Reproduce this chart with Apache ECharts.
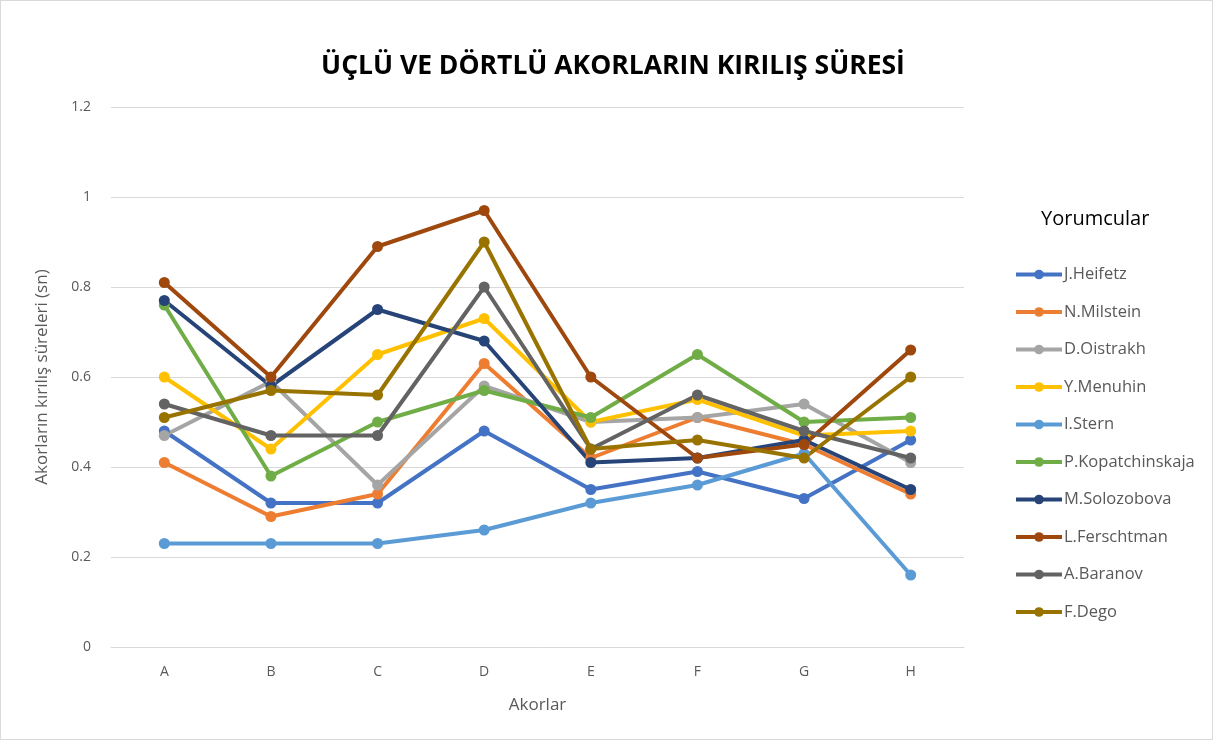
<!DOCTYPE html>
<html>
<head>
<meta charset="utf-8">
<script src="https://cdn.jsdelivr.net/npm/echarts@6/dist/echarts.min.js"></script>
<style>
  html, body { margin: 0; padding: 0; background: #fff; }
  #main { width: 1213px; height: 740px; box-sizing: border-box; border: 1px solid #d9d9d9; }
</style>
</head>
<body>
<div id="main"></div>
<script>
const categories = ['A', 'B', 'C', 'D', 'E', 'F', 'G', 'H'];
const names = ['J.Heifetz', 'N.Milstein', 'D.Oistrakh', 'Y.Menuhin', 'I.Stern',
  'P.Kopatchinskaja', 'M.Solozobova', 'L.Ferschtman', 'A.Baranov', 'F.Dego'];
const colors = ['#4472C4', '#ED7D31', '#A5A5A5', '#FFC000', '#5B9BD5',
  '#70AD47', '#264478', '#9E480E', '#636363', '#997300'];

const heifetz = [0.48, 0.32, 0.32, 0.48, 0.35, 0.39, 0.33, 0.46];
const milstein = [0.41, 0.29, 0.34, 0.63, 0.42, 0.51, 0.45, 0.34];
const oistrakh = [0.47, 0.59, 0.36, 0.58, 0.50, 0.51, 0.54, 0.41];
const menuhin = [0.60, 0.44, 0.65, 0.73, 0.50, 0.55, 0.47, 0.48];
const stern = [0.23, 0.23, 0.23, 0.26, 0.32, 0.36, 0.43, 0.16];
const kopatchinskaja = [0.76, 0.38, 0.50, 0.57, 0.51, 0.65, 0.50, 0.51];
const solozobova = [0.77, 0.58, 0.75, 0.68, 0.41, 0.42, 0.46, 0.35];
const ferschtman = [0.81, 0.60, 0.89, 0.97, 0.60, 0.42, 0.45, 0.66];
const baranov = [0.54, 0.47, 0.47, 0.80, 0.44, 0.56, 0.48, 0.42];
const dego = [0.51, 0.57, 0.56, 0.90, 0.44, 0.46, 0.42, 0.60];
const values = [heifetz, milstein, oistrakh, menuhin, stern,
  kopatchinskaja, solozobova, ferschtman, baranov, dego];

const yTicks = [0, 0.2, 0.4, 0.6, 0.8, 1, 1.2];

const font = '"Open Sans", "Liberation Sans", sans-serif';
let myChart = echarts.init(document.getElementById('main'));
myChart.setOption({
  textStyle: { fontFamily: font },
  title: [
    {
      text: 'ÜÇLÜ VE DÖRTLÜ AKORLARIN KIRILIŞ SÜRESİ',
      left: 607, top: 47, textAlign: 'center',
      textStyle: { fontSize: 26.5, fontWeight: 'bold', color: '#000', fontFamily: font }
    },
    {
      text: 'Yorumcular',
      left: 1035, top: 203,
      textStyle: { fontSize: 20, fontWeight: 'normal', color: '#000', fontFamily: font }
    }
  ],
  legend: {
    orient: 'vertical',
    left: 1008, top: 260,
    itemWidth: 46, itemHeight: 12, itemGap: 20.5,
    lineStyle: { width: 4 },
    textStyle: { fontSize: 16.5, color: '#595959', fontFamily: font, padding: [0, 0, 0, -3] },
    data: names
  },
  grid: { left: 110, right: 248, top: 106, bottom: 92 },
  xAxis: {
    type: 'category',
    data: categories,
    boundaryGap: true,
    name: 'Akorlar',
    nameLocation: 'middle',
    nameGap: 50,
    nameTextStyle: { fontSize: 17, color: '#595959' },
    axisLine: { lineStyle: { color: '#d9d9d9' } },
    axisTick: { show: false },
    axisLabel: { fontSize: 14, color: '#595959', margin: 18 }
  },
  yAxis: {
    type: 'value',
    min: 0, max: 1.2, interval: 0.2,
    name: 'Akorların kırılış süreleri (sn)',
    nameLocation: 'middle',
    nameGap: 60,
    nameTextStyle: { fontSize: 17, color: '#595959' },
    axisLine: { show: false },
    axisTick: { show: false },
    splitLine: { lineStyle: { color: '#d9d9d9' } },
    axisLabel: {
      fontSize: 14, color: '#595959', margin: 20,
      formatter: v => {
        const t = yTicks.find(x => Math.abs(x - v) < 1e-6);
        return t === undefined ? '' : String(t);
      }
    }
  },
  series: names.map((n, i) => ({
    name: n,
    type: 'line',
    data: values[i],
    color: colors[i],
    symbol: 'circle',
    symbolSize: 11,
    lineStyle: { width: 4 },
    emphasis: { disabled: true }
  }))
});
</script>
</body>
</html>
